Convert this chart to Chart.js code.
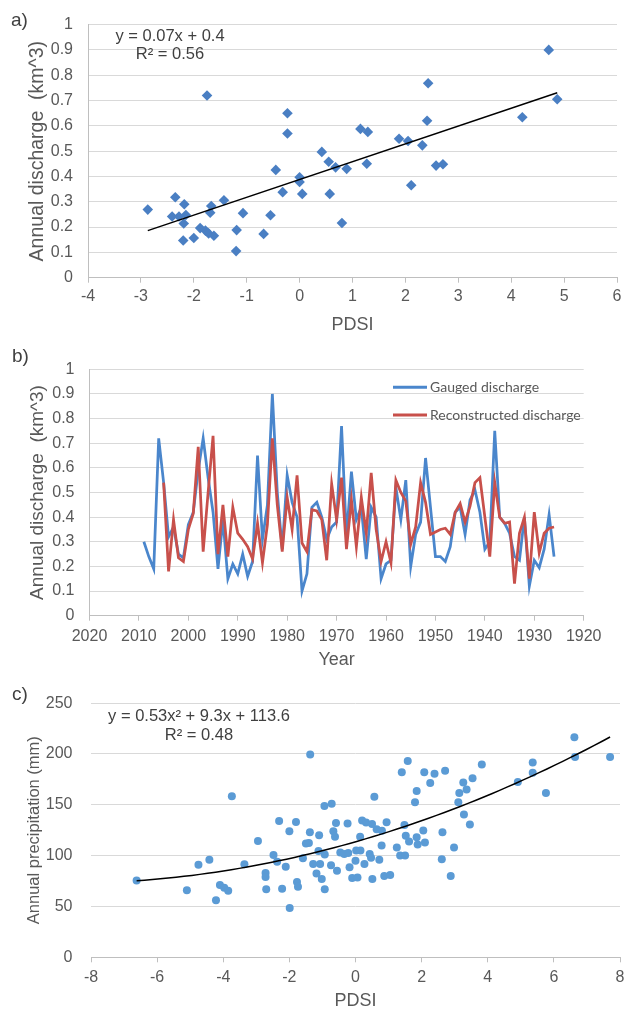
<!DOCTYPE html>
<html><head><meta charset="utf-8">
<script src="https://cdn.jsdelivr.net/npm/chart.js@4.4.0/dist/chart.umd.min.js"></script>
<style>
html,body{margin:0;padding:0;background:#fff;}
#wrap{position:relative;width:631px;height:1013px;overflow:hidden;background:#fff;}
canvas{position:absolute;left:0;}
</style></head><body>
<div id="wrap">
<canvas id="ca" width="631" height="340" style="top:0px"></canvas>
<canvas id="cb" width="631" height="335" style="top:340px"></canvas>
<canvas id="cc" width="631" height="338" style="top:675px"></canvas>
</div>
<script>
// ---------- Panel a: PDSI vs annual discharge ----------
const pdsiA = [-2.87,-2.35,-2.41,-2.28,-2.15,-2.18,-2.19,-2.20,-2.00,-1.88,-1.78,-1.72,-1.62,-1.67,-1.69,-1.43,-1.19,-1.20,-1.07,-0.68,-0.55,-0.45,-0.32,-0.23,-0.23,-1.75,0.00,0.00,0.05,0.42,0.55,0.57,0.68,0.80,0.89,1.15,1.29,1.27,1.88,2.05,2.11,2.32,2.41,2.43,2.58,2.71,4.21,4.71,4.87];
const dischargeA = [0.269,0.318,0.242,0.242,0.248,0.290,0.214,0.147,0.157,0.196,0.186,0.175,0.166,0.283,0.257,0.306,0.188,0.105,0.255,0.173,0.247,0.426,0.338,0.650,0.570,0.720,0.397,0.378,0.331,0.497,0.458,0.331,0.436,0.216,0.430,0.588,0.576,0.450,0.549,0.540,0.365,0.523,0.620,0.768,0.443,0.448,0.634,0.900,0.705];
const trendA = [0.0704, 0.388]; // slope, intercept as drawn
const eqA = ['y = 0.07x + 0.4', 'R\u00B2 = 0.56'];

// ---------- Panel b: gauged vs reconstructed discharge ----------
const gaugedYears = [2009,2008,2007,2006,2005,2004,2003,2002,2001,2000,1999,1998,1997,1996,1995,1994,1993,1992,1991,1990,1989,1988,1987,1986,1985,1984,1983,1982,1981,1980,1979,1978,1977,1976,1975,1974,1973,1972,1971,1970,1969,1968,1967,1966,1965,1964,1963,1962,1961,1960,1959,1958,1957,1956,1955,1954,1953,1952,1951,1950,1949,1948,1947,1946,1945,1944,1943,1942,1941,1940,1939,1938,1937,1936,1935,1934,1933,1932,1931,1930,1929,1928,1927,1926];
const gaugedQ = [0.30,0.24,0.19,0.72,0.54,0.32,0.36,0.25,0.235,0.37,0.42,0.59,0.72,0.56,0.42,0.19,0.39,0.15,0.21,0.17,0.25,0.16,0.22,0.65,0.31,0.45,0.90,0.50,0.27,0.57,0.46,0.40,0.10,0.17,0.44,0.46,0.40,0.31,0.36,0.38,0.77,0.32,0.585,0.39,0.44,0.23,0.44,0.40,0.15,0.21,0.225,0.52,0.39,0.55,0.20,0.33,0.38,0.64,0.44,0.24,0.24,0.22,0.28,0.42,0.44,0.33,0.47,0.51,0.42,0.27,0.30,0.75,0.40,0.375,0.335,0.24,0.225,0.40,0.12,0.225,0.195,0.27,0.41,0.24];
const reconYears = [2005,2004,2003,2002,2001,2000,1999,1998,1997,1996,1995,1994,1993,1992,1991,1990,1989,1988,1987,1986,1985,1984,1983,1982,1981,1980,1979,1978,1977,1976,1975,1974,1973,1972,1971,1970,1969,1968,1967,1966,1965,1964,1963,1962,1961,1960,1959,1958,1957,1956,1955,1954,1953,1952,1951,1950,1949,1948,1947,1946,1945,1944,1943,1942,1941,1940,1939,1938,1937,1936,1935,1934,1933,1932,1931,1930,1929,1928,1927,1926];
const reconQ = [0.54,0.18,0.39,0.235,0.22,0.35,0.415,0.685,0.26,0.50,0.73,0.25,0.45,0.24,0.44,0.335,0.31,0.28,0.23,0.375,0.215,0.37,0.72,0.45,0.26,0.48,0.35,0.57,0.295,0.26,0.43,0.425,0.39,0.225,0.535,0.39,0.56,0.27,0.47,0.28,0.48,0.335,0.58,0.35,0.22,0.30,0.215,0.55,0.50,0.465,0.29,0.36,0.54,0.46,0.33,0.34,0.35,0.355,0.33,0.42,0.455,0.38,0.445,0.54,0.56,0.40,0.24,0.54,0.40,0.375,0.38,0.13,0.335,0.40,0.15,0.42,0.255,0.335,0.355,0.36];
const seriesNamesB = ['Gauged discharge', 'Reconstructed discharge'];

// ---------- Panel c: PDSI vs annual precipitation ----------
const pdsiC = [-6.62,-5.10,-4.75,-4.42,-4.22,-4.10,-3.97,-3.85,-3.74,-3.36,-2.95,-2.72,-2.72,-2.70,-2.48,-2.37,-2.31,-2.22,-2.11,-2.00,-1.99,-1.80,-1.77,-1.74,-1.59,-1.50,-1.41,-1.38,-1.37,-1.28,-1.18,-1.10,-1.07,-1.02,-0.94,-0.93,-0.93,-1.12,-0.72,-0.74,-0.67,-0.62,-0.59,-0.56,-0.46,-0.34,-0.24,-0.22,-0.18,-0.10,0.02,0.00,0.06,0.15,0.14,0.20,0.27,0.32,0.43,0.50,0.47,0.51,0.57,0.64,0.72,0.79,0.80,0.87,1.05,0.94,1.25,1.35,1.50,1.48,1.40,1.58,1.52,1.62,1.85,1.88,2.05,2.10,1.80,1.85,2.08,2.39,2.26,2.71,2.61,2.88,2.98,2.63,3.14,3.26,3.36,3.28,3.46,3.54,3.11,3.82,4.91,5.36,5.36,5.76,6.62,6.64,7.70];
const precipC = [75.5,66,91,96,56,71,68.5,65.5,158.5,91.5,114.5,83,79,67,100.5,94,134,67.5,89,124,48.5,133,74,69.5,97.5,112,112.3,123,199.5,91.8,82.5,120,91.8,77,148.7,67,101,104.5,151,90.5,124,118.5,132,85,103,101.5,131.5,102.5,88.5,78,105,95,78.5,105,118.5,134.5,91.8,132.5,101.5,131,98,77,158,126,96,110,124.5,80,81,132.8,108,100,100,130.2,182,193,119.6,114,118,111,124.6,113,152.5,163.5,182,180.5,171.5,183.5,96.5,80,108,123,161.5,172,165,140.5,130.5,176,152.5,189.5,172.5,191.5,181.5,161.5,216.5,197,197];
const trendC = [0.53, 9.3, 113.6]; // a, b, c of y = a x^2 + b x + c
const eqC = ['y = 0.53x\u00B2 + 9.3x + 113.6', 'R\u00B2 = 0.48'];

// ---------- helpers ----------
const F = "'Liberation Sans', Arial, sans-serif";
const FL = "Lato, 'Liberation Sans', sans-serif";
const TXT = '#595959';
const GRID = '#d9d9d9';
const AX = '#bfbfbf';

const notesPlugin = {
  id: 'notes',
  afterDraw(chart, args, opts) {
    const ctx = chart.ctx;
    (opts.items || []).forEach(it => {
      ctx.save();
      ctx.font = it.font;
      ctx.fillStyle = it.color || '#404040';
      ctx.textAlign = it.align || 'left';
      ctx.textBaseline = 'middle';
      ctx.fillText(it.text, it.x, it.y);
      ctx.restore();
    });
  }
};
const lineLegend = {
  id: 'lineLegend',
  afterDraw(chart, args, opts) {
    if (!opts || opts.x0 === undefined) return;
    const ctx = chart.ctx;
    chart.data.datasets.forEach((ds, i) => {
      const y = opts.y0 + i * opts.dy;
      ctx.save();
      ctx.strokeStyle = ds.borderColor; ctx.lineWidth = 3;
      ctx.beginPath(); ctx.moveTo(opts.x0, y); ctx.lineTo(opts.x1, y); ctx.stroke();
      ctx.font = opts.font; ctx.fillStyle = TXT; ctx.textBaseline = 'middle'; ctx.textAlign = 'left';
      ctx.fillText(ds.label, opts.x1 + 3, y);
      ctx.restore();
    });
  }
};

const fmt = v => String(Math.round(v * 100) / 100);

function xScale(min, max, step, title, h, pad, titlePadB) {
  return {
    type: 'linear', min, max, reverse: false,
    ticks: { stepSize: step, color: TXT, font: { family: F, size: 16 }, padding: pad, maxRotation: 0, autoSkip: false, callback: fmt },
    grid: { drawOnChartArea: false, drawTicks: true, tickLength: 5, color: AX, lineWidth: 1 },
    border: { display: true, color: AX, width: 1 },
    title: { display: true, text: title, color: TXT, font: { family: F, size: 18 }, padding: { top: 0, bottom: titlePadB } },
    afterFit(s) { s.height = h; }
  };
}
function yScale(min, max, step, title, titleSize, w, pad, axisLine, titlePadT) {
  return {
    type: 'linear', min, max,
    ticks: { stepSize: step, color: TXT, font: { family: F, size: 16 }, padding: pad, callback: fmt },
    grid: { color: GRID, lineWidth: 1, drawTicks: false },
    border: { display: axisLine, color: AX, width: 1 },
    title: { display: true, text: title, color: TXT, font: { family: F, size: titleSize }, padding: { top: titlePadT, bottom: 0 } },
    afterFit(s) { s.width = w; }
  };
}

// ---------- Chart a ----------
const ptsA = pdsiA.map((x, i) => ({ x, y: dischargeA[i] }));
const xminA = Math.min(...pdsiA), xmaxA = Math.max(...pdsiA);
const lineA = [xminA, xmaxA].map(x => ({ x, y: trendA[0] * x + trendA[1] }));
new Chart(document.getElementById('ca'), {
  type: 'scatter',
  data: { datasets: [
    { label: 'trend', data: lineA, showLine: true, borderColor: '#000', borderWidth: 1.5, pointRadius: 0, order: 0 },
    { label: 'Annual discharge', data: ptsA, pointStyle: 'rectRot', pointRadius: 5.3, backgroundColor: '#4a7fc3', borderColor: '#4a7fc3', borderWidth: 0, order: 1 }
  ]},
  options: {
    responsive: false, animation: false, events: [],
    layout: { padding: { left: 0, top: 19.7, right: 14, bottom: 0 } },
    scales: {
      x: xScale(-4, 6, 1, 'PDSI', 62.3, 4, 4),
      y: yScale(0, 1, 0.1, 'Annual discharge  (km^3)', 19.5, 88, 15, true, 26)
    },
    plugins: { legend: { display: false }, tooltip: { enabled: false },
      notes: { items: [
        { text: 'a)', x: 11, y: 21, font: '19px ' + F, color: '#404040' },
        { text: eqA[0], x: 170, y: 36, font: '16.5px ' + F, align: 'center', color: '#404040' },
        { text: eqA[1], x: 170, y: 54, font: '16.5px ' + F, align: 'center', color: '#404040' }
      ]}
    }
  },
  plugins: [notesPlugin]
});

// ---------- Chart b ----------
const ptsG = gaugedYears.map((x, i) => ({ x, y: gaugedQ[i] }));
const ptsR = reconYears.map((x, i) => ({ x, y: reconQ[i] }));
const xb = xScale(1920, 2020, 10, 'Year', 59.3, 6, 4);
xb.reverse = true;
new Chart(document.getElementById('cb'), {
  type: 'scatter',
  data: { datasets: [
    { label: seriesNamesB[0], data: ptsG, showLine: true, borderColor: '#4a86cc', borderWidth: 2.75, pointRadius: 0, order: 2, tension: 0 },
    { label: seriesNamesB[1], data: ptsR, showLine: true, borderColor: '#c8504b', borderWidth: 2.75, pointRadius: 0, order: 1, tension: 0 }
  ]},
  options: {
    responsive: false, animation: false, events: [],
    layout: { padding: { left: 0, top: 29.3, right: 47.3, bottom: 0 } },
    scales: {
      x: xb,
      y: yScale(0, 1, 0.1, 'Annual discharge  (km^3)', 19, 89.5, 15, true, 26)
    },
    plugins: { legend: { display: false }, tooltip: { enabled: false },
      lineLegend: { x0: 393, x1: 427, y0: 47.3, dy: 27.7, font: '14px ' + FL },
      notes: { items: [
        { text: 'b)', x: 12, y: 17, font: '19px ' + F, color: '#404040' }
      ]}
    }
  },
  plugins: [notesPlugin, lineLegend]
});

// ---------- Chart c ----------
const ptsC = pdsiC.map((x, i) => ({ x, y: precipC[i] }));
const xminC = Math.min(...pdsiC), xmaxC = Math.max(...pdsiC);
const curveC = [];
for (let k = 0; k <= 60; k++) {
  const x = xminC + (xmaxC - xminC) * k / 60;
  curveC.push({ x, y: trendC[0] * x * x + trendC[1] * x + trendC[2] });
}
new Chart(document.getElementById('cc'), {
  type: 'scatter',
  data: { datasets: [
    { label: 'trend', data: curveC, showLine: true, borderColor: '#000', borderWidth: 1.5, pointRadius: 0, order: 0 },
    { label: 'Annual precipitation', data: ptsC, pointStyle: 'circle', pointRadius: 4, backgroundColor: '#5b9bd5', borderColor: '#5b9bd5', borderWidth: 0, order: 1 }
  ]},
  options: {
    responsive: false, animation: false, events: [],
    layout: { padding: { left: 0, top: 27.7, right: 11, bottom: 0 } },
    scales: {
      x: xScale(-8, 8, 2, 'PDSI', 55.7, 6, 1),
      y: yScale(0, 250, 50, 'Annual precipitation (mm)', 16.5, 91, 18.5, false, 25)
    },
    plugins: { legend: { display: false }, tooltip: { enabled: false },
      notes: { items: [
        { text: 'c)', x: 12, y: 20, font: '19px ' + F, color: '#404040' },
        { text: eqC[0], x: 199, y: 41, font: '16.5px ' + F, align: 'center', color: '#404040' },
        { text: eqC[1], x: 199, y: 60, font: '16.5px ' + F, align: 'center', color: '#404040' }
      ]}
    }
  },
  plugins: [notesPlugin]
});
</script>
</body></html>
